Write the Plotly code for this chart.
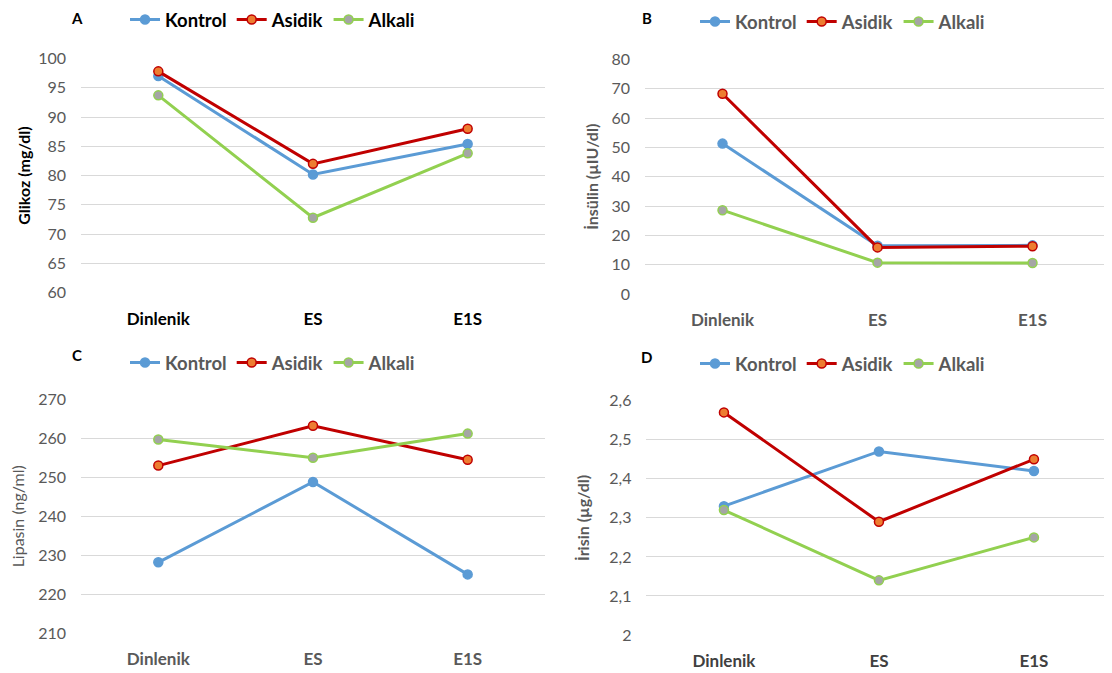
import plotly.graph_objects as go

categories = ["Dinlenik", "ES", "E1S"]
series_names = ["Kontrol", "Asidik", "Alkali"]

glikoz_kontrol = [97.0, 80.2, 85.4]
glikoz_asidik = [97.8, 82.0, 88.0]
glikoz_alkali = [93.7, 72.8, 83.8]

insulin_kontrol = [51.3, 16.5, 16.6]
insulin_asidik = [68.3, 15.9, 16.3]
insulin_alkali = [28.6, 10.7, 10.6]

lipasin_kontrol = [228.2, 248.8, 225.1]
lipasin_asidik = [253.0, 263.2, 254.5]
lipasin_alkali = [259.7, 255.0, 261.2]

irisin_kontrol = [2.33, 2.47, 2.42]
irisin_asidik = [2.57, 2.29, 2.45]
irisin_alkali = [2.32, 2.14, 2.25]

W, H = 1104, 665

panels = [
    dict(data=[glikoz_kontrol, glikoz_asidik, glikoz_alkali], title="Glikoz (mg/dl)", rng=[60, 100], dtick=5,
         xdom=[0.0661, 0.4864], ydom=[0.5719, 0.9241], letter="A", lx=0.0625, ly=0.985, stand=3,
         legx=0.106, legy=0.982, tcol="#000000", tbold=True, xcol="#000000", legcol="#000000"),
    dict(data=[insulin_kontrol, insulin_asidik, insulin_alkali], title="İnsülin (µIU/dl)", rng=[0, 80], dtick=10,
         xdom=[0.5770, 0.9982], ydom=[0.5699, 0.9226], letter="B", lx=0.5788, ly=0.985, stand=8,
         legx=0.6223, legy=0.979, tcol="#595959", tbold=True, xcol="#595959", legcol="#595959"),
    dict(data=[lipasin_kontrol, lipasin_asidik, lipasin_alkali], title="Lipasin (ng/ml)", rng=[210, 270], dtick=10,
         xdom=[0.0661, 0.4864], ydom=[0.0597, 0.4116], letter="C", lx=0.0625, ly=0.478, stand=10,
         legx=0.106, legy=0.4662, tcol="#595959", tbold=False, xcol="#595959", legcol="#595959"),
    dict(data=[irisin_kontrol, irisin_asidik, irisin_alkali], title="İrisin (µg/dl)", rng=[2, 2.6], dtick=0.1,
         xdom=[0.5783, 0.9995], ydom=[0.0571, 0.4095], letter="D", lx=0.5788, ly=0.4752, stand=15,
         legx=0.6223, legy=0.4647, tcol="#595959", tbold=True, xcol="#404040", legcol="#595959"),
]

line_colors = ["#5B9BD5", "#C00000", "#92D050"]
marker_fill = ["#5B9BD5", "#ED7D31", "#A5A5A5"]
marker_line = ["#5B9BD5", "#C00000", "#92D050"]

FONT = "Lato, 'Open Sans', sans-serif"

fig = go.Figure()
layout = dict(
    width=W, height=H, margin=dict(l=0, r=0, t=0, b=0, autoexpand=False),
    paper_bgcolor="white", plot_bgcolor="white", showlegend=True,
    font=dict(family=FONT, color="#595959"), separators=",.",
    annotations=[],
)

for i, p in enumerate(panels):
    n = i + 1
    xa = "x" if n == 1 else f"x{n}"
    ya = "y" if n == 1 else f"y{n}"
    leg = "legend" if n == 1 else f"legend{n}"
    for j, name in enumerate(series_names):
        fig.add_trace(go.Scatter(
            x=categories, y=p["data"][j], name=name, mode="lines+markers",
            xaxis=xa, yaxis=ya, legend=leg,
            line=dict(color=line_colors[j], width=3),
            marker=dict(size=9, color=marker_fill[j], line=dict(color=marker_line[j], width=1.5)),
        ))
    layout["xaxis" if n == 1 else f"xaxis{n}"] = dict(
        domain=p["xdom"], anchor=ya, type="category", range=[-0.5, 2.5],
        showgrid=False, showline=False, zeroline=False, ticks="", automargin=False,
        tickfont=dict(size=17, color=p["xcol"], weight="bold"), ticklabelstandoff=14,
    )
    layout["yaxis" if n == 1 else f"yaxis{n}"] = dict(
        domain=p["ydom"], anchor=xa, range=p["rng"], dtick=p["dtick"], tick0=p["rng"][0],
        showgrid=True, gridcolor="#D9D9D9", gridwidth=1, zeroline=False, showline=False,
        ticks="", automargin=False, tickfont=dict(size=16, color="#595959"), ticklabelstandoff=14,
        title=dict(text=p["title"], standoff=p["stand"],
                   font=dict(size=16, color=p["tcol"], weight="bold" if p["tbold"] else "normal")),
    )
    layout[leg] = dict(
        orientation="h", x=p["legx"], y=p["legy"], xanchor="left", yanchor="middle",
        bgcolor="rgba(0,0,0,0)", itemwidth=30, tracegroupgap=0,
        font=dict(size=18.5, color=p["legcol"], weight="bold"),
    )
    layout["annotations"].append(dict(
        text=p["letter"], x=p["lx"], y=p["ly"], xref="paper", yref="paper",
        xanchor="center", yanchor="middle", showarrow=False,
        font=dict(size=15, color="#000000", weight="bold"),
    ))

fig.update_layout(**layout)
fig.write_html("out.html")
